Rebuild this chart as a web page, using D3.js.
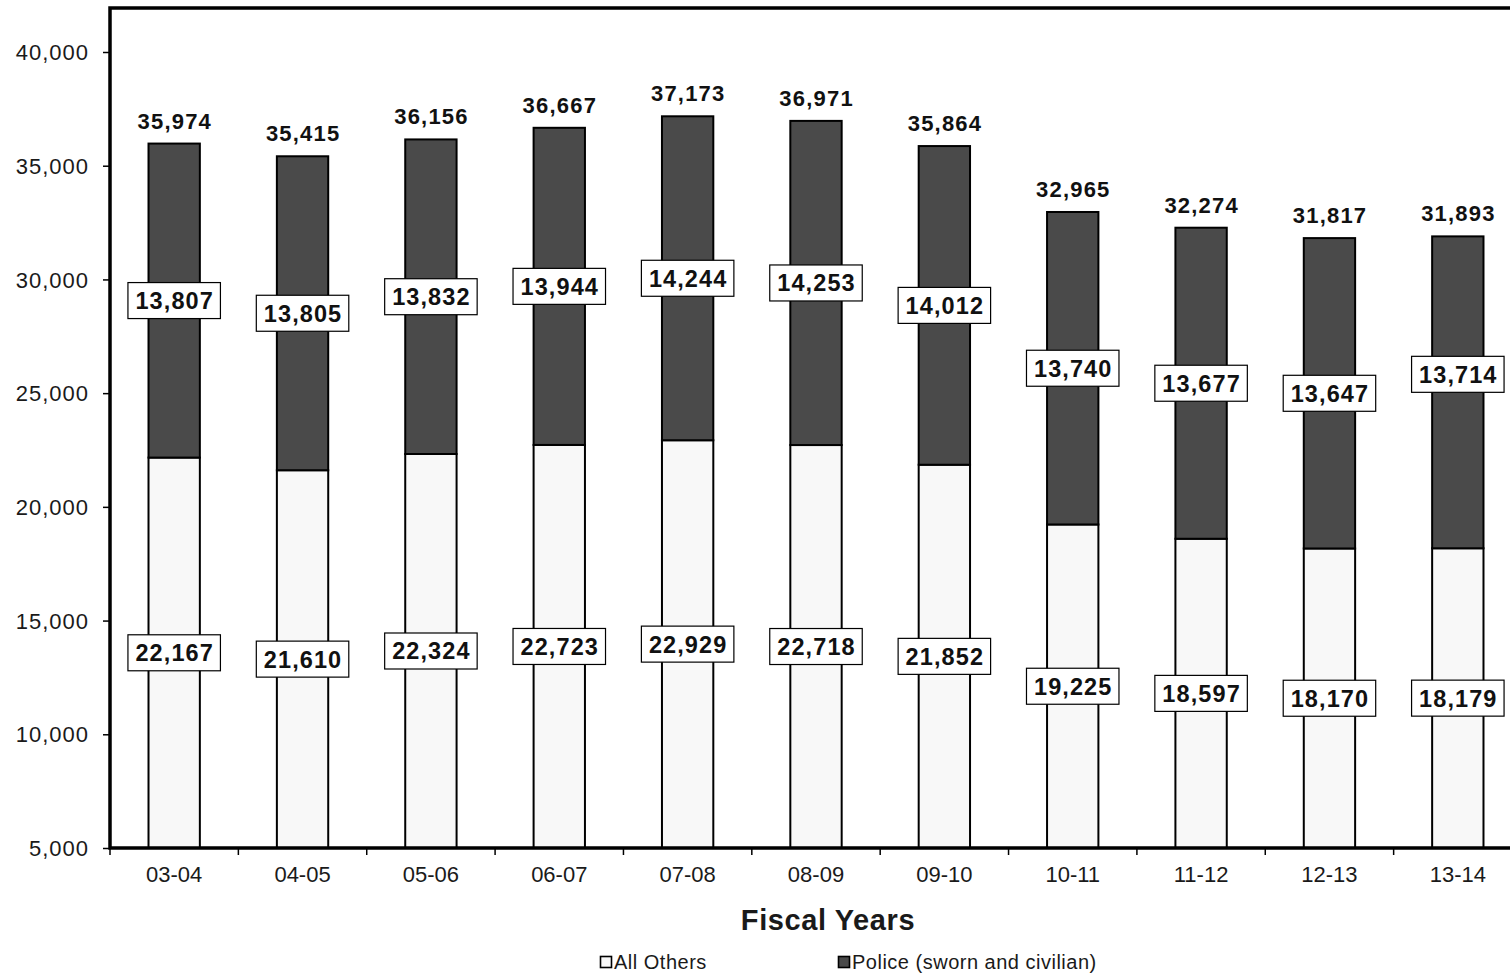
<!DOCTYPE html>
<html>
<head>
<meta charset="utf-8">
<script src="https://cdn.jsdelivr.net/npm/d3@7"></script>
<style>
  html, body { margin: 0; padding: 0; background: #fff; }
  svg { display: block; font-family: "Liberation Sans", Arial, sans-serif; }
</style>
</head>
<body>
<svg id="chart" width="1510" height="974"></svg>
<script>
// Fiscal years and staffing counts per year
const years = ["03-04", "04-05", "05-06", "06-07", "07-08", "08-09", "09-10", "10-11", "11-12", "12-13", "13-14"];
const allOthers = [22167, 21610, 22324, 22723, 22929, 22718, 21852, 19225, 18597, 18170, 18179];
const police = [13807, 13805, 13832, 13944, 14244, 14253, 14012, 13740, 13677, 13647, 13714];
const totals = [35974, 35415, 36156, 36667, 37173, 36971, 35864, 32965, 32274, 31817, 31893];
const yTicks = [5000, 10000, 15000, 20000, 25000, 30000, 35000, 40000];
const seriesNames = ["All Others", "Police (sworn and civilian)"];
const seriesColors = ["#f8f8f8", "#4a4a4a"];

const rows = years.map((yr, i) => ({ year: yr, others: allOthers[i], police: police[i], total: totals[i] }));

const svg = d3.select("#chart");
const plotLeft = 110, plotTop = 8, plotBottom = 848, plotRight = 1522;
const fmt = d3.format(",");

const x = d3.scaleBand().domain(years).range([plotLeft, plotRight]).paddingInner(0.6).paddingOuter(0.3);
const y = d3.scaleLinear().domain([5000, 40000]).range([plotBottom, 52]);

// stacked segments: All Others at the base, Police on top
const stack = d3.stack().keys(["others", "police"])(rows);
const gBars = svg.append("g");
stack.forEach((layer, li) => {
  gBars.selectAll(null).data(layer).enter().append("rect")
    .attr("x", d => x(d.data.year))
    .attr("width", x.bandwidth())
    .attr("y", d => y(d[1]))
    .attr("height", d => y(Math.max(d[0], 5000)) - y(d[1]))
    .attr("fill", seriesColors[li])
    .attr("stroke", "#000")
    .attr("stroke-width", 2);
});

// y axis
const yAxis = svg.append("g").attr("transform", `translate(${plotLeft},0)`)
  .call(d3.axisLeft(y).tickValues(yTicks).tickFormat(fmt).tickSize(7).tickSizeOuter(0));
yAxis.select(".domain").remove();
yAxis.selectAll("text")
  .attr("font-size", 22).attr("letter-spacing", 1).attr("fill", "#1a1a1a")
  .attr("x", -21).attr("dy", "0.35em");
yAxis.selectAll("line").attr("stroke", "#000").attr("stroke-width", 1.5);

// x axis with ticks between categories
const step = x.step();
const boundaries = d3.range(years.length + 1).map(i => plotLeft + i * step);
svg.append("g").selectAll("line").data(boundaries).enter().append("line")
  .attr("x1", d => d).attr("x2", d => d)
  .attr("y1", plotBottom).attr("y2", plotBottom + 7)
  .attr("stroke", "#000").attr("stroke-width", 1.5);
svg.append("g").selectAll("text").data(years).enter().append("text")
  .attr("x", d => x(d) + x.bandwidth() / 2)
  .attr("y", plotBottom + 34)
  .attr("text-anchor", "middle")
  .attr("font-size", 22)
  .attr("fill", "#1a1a1a")
  .text(d => d);

// plot frame
svg.append("path")
  .attr("d", `M${plotRight + 10},${plotTop} L${plotLeft},${plotTop} L${plotLeft},${plotBottom} L${plotRight + 10},${plotBottom}`)
  .attr("fill", "none").attr("stroke", "#000").attr("stroke-width", 3.5);

// boxed value labels inside each segment
function boxedLabel(g, cx, cy, text) {
  const t = g.append("text")
    .attr("x", cx + 0.5).attr("y", cy)
    .attr("text-anchor", "middle").attr("dy", "0.36em")
    .attr("font-size", 23.5).attr("font-weight", "bold").attr("letter-spacing", 1.1)
    .attr("fill", "#111")
    .text(text);
  const w = t.node().getComputedTextLength() + 14;
  g.insert("rect", "text")
    .attr("x", cx - w / 2).attr("y", cy - 18)
    .attr("width", w).attr("height", 36)
    .attr("fill", "#fff").attr("stroke", "#000").attr("stroke-width", 1.2);
}
// the last police label sits a little higher to stay clear of its neighbour
const lastPoliceNudge = -18;
rows.forEach((d, i) => {
  const cx = x(d.year) + x.bandwidth() / 2;
  boxedLabel(svg.append("g"), cx, (y(5000) + y(d.others)) / 2, fmt(d.others));
  const nudge = i === rows.length - 1 ? lastPoliceNudge : 0;
  boxedLabel(svg.append("g"), cx, (y(d.others) + y(d.total)) / 2 + nudge, fmt(d.police));
});

// totals above bars
svg.append("g").selectAll("text").data(rows).enter().append("text")
  .attr("x", d => x(d.year) + x.bandwidth() / 2 + 0.6)
  .attr("y", d => y(d.total) - 15)
  .attr("text-anchor", "middle")
  .attr("font-size", 22).attr("font-weight", "bold").attr("letter-spacing", 1.2)
  .attr("fill", "#111")
  .text(d => fmt(d.total));

// axis title
svg.append("text")
  .attr("x", 828).attr("y", 930)
  .attr("text-anchor", "middle")
  .attr("font-size", 29).attr("font-weight", "bold").attr("letter-spacing", 0.6)
  .attr("fill", "#1a1a1a")
  .text("Fiscal Years");

// legend
const legendX = [600, 838];
seriesNames.forEach((name, i) => {
  const g = svg.append("g").attr("transform", `translate(${legendX[i]},962)`);
  g.append("rect").attr("x", 0.5).attr("y", -5.5).attr("width", 11).attr("height", 11)
    .attr("fill", seriesColors[i]).attr("stroke", "#000").attr("stroke-width", 1.6);
  g.append("text").attr("x", 14).attr("y", 0).attr("dy", "0.35em")
    .attr("font-size", 20).attr("letter-spacing", 0.5).attr("fill", "#1a1a1a").text(name);
});
</script>
</body>
</html>
